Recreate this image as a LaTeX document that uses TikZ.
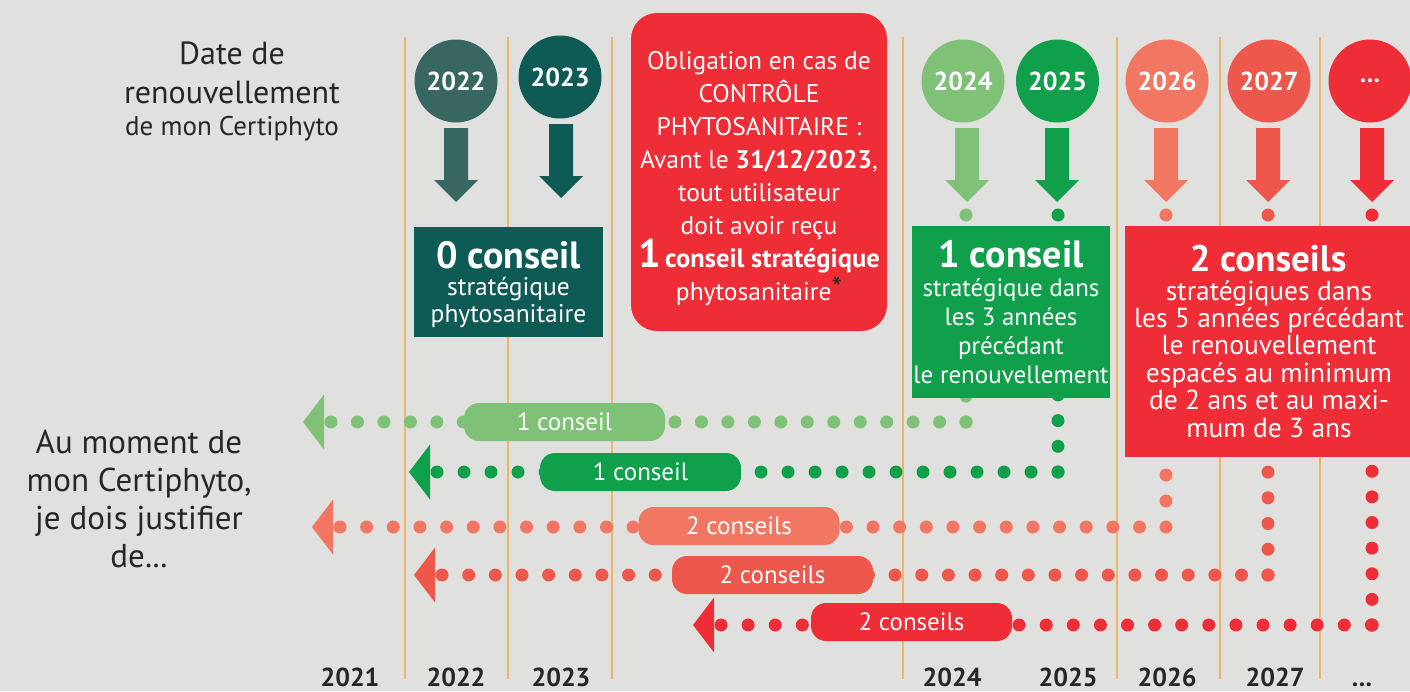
\documentclass[tikz,border=0pt]{standalone}
\usepackage{fontspec}
\setmainfont{PT Sans}
\usetikzlibrary{calc}
\definecolor{bgc}{HTML}{E0E0DE}
\definecolor{yline}{HTML}{EDB566}
\definecolor{ink}{HTML}{262626}
\definecolor{cA}{HTML}{386762}
\definecolor{cB}{HTML}{0E5A55}
\definecolor{cC}{HTML}{80C178}
\definecolor{cD}{HTML}{109F4B}
\definecolor{cE}{HTML}{F27763}
\definecolor{cF}{HTML}{EE574B}
\definecolor{cG}{HTML}{EE2D37}
\newcommand\tdots{.\kern0.02em.\kern0.02em.}
\newcommand\textlines[6]{%
  \foreach \l [count=\i] in {#6} {\node[anchor=base, inner sep=0pt, #2] (#1\i) at (#3, {#4+(\i-1)*#5}) {\l};}}
\begin{document}
\begin{tikzpicture}[x=1pt,y=-1pt,
  yearline/.style={draw=yline, line width=1.5pt},
  yearcirc/.style={circle, minimum size=83pt, inner sep=0pt, text=white, font=\fontsize{26}{30}\selectfont\bfseries},
  panel/.style={fill=#1, inner sep=0pt},
  pill/.style={fill=#1, rounded corners=15pt, minimum height=38pt, minimum width=201pt, inner sep=0pt, text=white, font=\fontsize{25}{28}\selectfont},
  dotrow/.style={line width=13pt, line cap=round, dash pattern=on 0pt off #1pt},
  yearlab/.style={text=ink, font=\fontsize{26}{30}\selectfont\bfseries, anchor=base, inner sep=0pt},
  wtext/.style={text=white, font=\fontsize{#1}{#1}\selectfont},
  wtitle/.style={text=white, anchor=base, inner sep=0pt, font=\fontsize{#1}{#1}\selectfont\bfseries},
  ktext/.style={text=ink, font=\fontsize{#1}{#1}\selectfont}]
\fill[bgc] (0,0) rectangle (1410,691);
\useasboundingbox (0,0) rectangle (1410,691);
% year separators
\foreach \x in {405,508,612,903,1117,1220,1320} \draw[yearline] (\x,37) -- (\x,679);
% dotted rows
\foreach \n/\c/\tip/\cx/\y/\hs/\vs in {1/cC/303/966/422/26.46/25.875, 2/cD/409/1058/472/27.0/25.7, 3/cE/312/1166/527/26.65/26, 4/cF/414/1268/575/26.65/25.71, 5/cG/693/1372/625/27.1/25.625}{
  \coordinate (tip\n) at (\tip,\y);
  \coordinate (base\n) at (\tip+28,\y);
  \coordinate (corner\n) at (\cx,\y);
  \coordinate (top\n) at (\cx,215);
  \draw[dotrow=\hs, \c] (base\n) -- (corner\n);
  \draw[dotrow=\vs, \c] (top\n) -- (corner\n);
  \fill[\c] (corner\n) circle (6.5pt);
}
% boxes
\node[panel=cB, minimum width=189pt, minimum height=110pt] (box0) at (508.5,282) {};
\node[panel=cG, rounded corners=26pt, minimum width=256pt, minimum height=318pt] (boxctrl) at (759,172) {};
\node[panel=cD, minimum width=198pt, minimum height=172pt] (box1) at (1011,312) {};
\node[panel=cG, minimum width=287pt, minimum height=231pt] (box2) at (1268.5,341.5) {};
% arrows below circles
\foreach \x/\t/\c in {456/128/cA, 561/124/cB, 967/128/cC, 1057/128/cD, 1166/128/cE, 1268/128/cF, 1372/128/cG}
  \fill[\c] (\x-12,\t) -- (\x+12,\t) -- (\x+12,\t+52) -- (\x+22,\t+52) -- (\x,\t+74) -- (\x-22,\t+52) -- (\x-12,\t+52) -- cycle;
% circles
\node[yearcirc, fill=cA] (c2022) at (456,81) {2022};
\node[yearcirc, fill=cB] (c2023) at (560,77) {2023};
\node[yearcirc, fill=cC] (c2024) at (963,81) {2024};
\node[yearcirc, fill=cD] (c2025) at (1057.5,81) {2025};
\node[yearcirc, fill=cE] (c2026) at (1167,81) {2026};
\node[yearcirc, fill=cF] (c2027) at (1269,81) {2027};
\node[yearcirc, fill=cG] (cmore) at (1370,81) {\tdots};
% pills
\node[pill=cC] (p1) at (564.5,422) {1 conseil};
\node[pill=cD] (p2) at (640.5,472) {1 conseil};
\node[pill=cE] (p3) at (739,526) {2 conseils};
\node[pill=cF] (p4) at (772.5,575) {2 conseils};
\node[pill=cG] (p5) at (911.5,622) {2 conseils};
% row arrowheads
\foreach \n/\c in {1/cC,2/cD,3/cE,4/cF,5/cG}
  \fill[\c] (tip\n) -- ++(21,-27.5) -- ++(0,55) -- cycle;
% year labels
\foreach \x/\yr [count=\k] in {350/2021, 456/2022, 561/2023, 952/2024, 1068/2025, 1167/2026, 1275/2027, 1362/\tdots}
  \node[yearlab] (yl\k) at (\x,686) {\yr};
% left texts
\textlines{lt}{ktext=32}{232}{64}{39}{Date de, renouvellement}
\node[anchor=base, inner sep=0pt, ktext=27] (lt3) at (232,135) {de mon Certiphyto};
\textlines{lm}{ktext=33}{139}{453}{38}{Au moment de, {mon Certiphyto,}, je dois justifier, de\tdots}
% box texts
\node[wtitle=38] (b0t) at (508.5,268) {0 conseil};
\textlines{b0}{wtext=25.5}{508.5}{295}{27}{stratégique, phytosanitaire}
\textlines{bc}{wtext=25.5}{759}{69}{33}{Obligation en cas de, CONTRÔLE, PHYTOSANITAIRE :, {Avant le \textbf{31/12/2023},}, tout utilisateur, doit avoir reçu, {{\fontsize{40}{40}\selectfont\bfseries 1}\,{\fontsize{26.5}{27}\selectfont\bfseries conseil stratégique}}, {phytosanitaire\raisebox{0.05em}{\textcolor{ink}{\fontsize{30}{30}\selectfont *}}}}
\node[wtitle=38] (b1t) at (1011,267) {1 conseil};
\textlines{b1}{wtext=25}{1011}{296}{29}{stratégique dans, les 3 années, précédant, le renouvellement}
\node[wtitle=37] (b2t) at (1268,271) {2 conseils};
\textlines{b2}{wtext=27.5}{1269}{300}{27.4}{stratégiques dans, les 5 années précédant, le renouvellement, espacés au minimum, de 2 ans et au maxi-, mum de 3 ans}
\end{tikzpicture}
\end{document}
